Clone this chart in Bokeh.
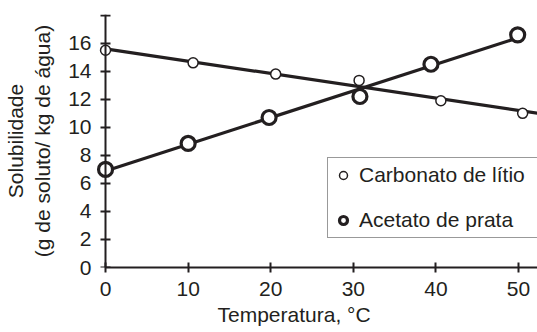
import numpy as np
from bokeh.plotting import figure
from bokeh.models import Range1d, FixedTicker, Legend, LegendItem, Title, LinearAxis
from bokeh.embed import file_html
from bokeh.resources import INLINE

# Data
carb_temp = [0, 10.6, 20.6, 30.7, 40.6, 50.5]
carb_sol = [15.5, 14.6, 13.8, 13.35, 11.9, 11.0]
acet_temp = [0, 10.0, 19.8, 30.8, 39.4, 49.9]
acet_sol = [7.0, 8.85, 10.7, 12.2, 14.5, 16.6]
carb_line_temp = [0, 55]
acet_line_temp = [0, 49.9]
x_ticks = [0, 10, 20, 30, 40, 50]
y_ticks = [0, 2, 4, 6, 8, 10, 12, 14, 16, 18]
y_label_ticks = [0, 2, 4, 6, 8, 10, 12, 14, 16]
carb_label = "Carbonato de lítio"
acet_label = "Acetato de prata"

FONT = "Liberation Sans"
INK = "#231f20"
FS = "21px"

p = figure(width=537, height=332, output_backend="svg", toolbar_location=None,
           x_range=Range1d(-1.7, 52.3), y_range=Range1d(0, 18.05),
           min_border_left=90, min_border_right=0, min_border_top=14,
           min_border_bottom=65)
p.outline_line_color = None
p.grid.visible = False

# trend lines (least squares from the data)
cs, ci = np.polyfit(carb_temp, carb_sol, 1)
as_, ai = np.polyfit(acet_temp, acet_sol, 1)
p.line(carb_line_temp, [ci + cs * t for t in carb_line_temp], line_width=3.2, line_color=INK)
p.line(acet_line_temp, [ai + as_ * t for t in acet_line_temp], line_width=3.2, line_color=INK)

r_carb = p.scatter(carb_temp, carb_sol, size=10, fill_color="white", line_color=INK, line_width=1.5)
r_acet = p.scatter(acet_temp, acet_sol, size=14, fill_color="white", line_color=INK, line_width=3.2)


def style(ax):
    ax.axis_line_width = 2
    ax.axis_line_color = INK
    ax.major_tick_line_width = 2
    ax.major_tick_line_color = INK
    ax.major_tick_in = 5
    ax.major_tick_out = 5
    ax.minor_tick_line_color = None
    ax.major_label_text_font = FONT
    ax.major_label_text_font_size = FS
    ax.major_label_text_color = INK
    ax.axis_label_text_font = FONT
    ax.axis_label_text_font_size = FS
    ax.axis_label_text_font_style = "normal"
    ax.axis_label_text_color = INK


# x axis
xa = p.xaxis[0]
style(xa)
xa.ticker = FixedTicker(ticks=x_ticks)
xa.bounds = (0, 60)
xa.major_label_standoff = 9

# y axis: labels (frame edge) + line/ticks at temperature 0
ya = p.yaxis[0]
style(ya)
ya.ticker = FixedTicker(ticks=y_label_ticks)
ya.axis_line_color = None
ya.major_tick_line_color = None
ya.major_tick_in = 0
ya.major_tick_out = 0
ya.major_label_standoff = 0
ya.axis_label = "Solubilidade\n(g de soluto/ kg de água)"
ya.axis_label_standoff = 11

yfix = LinearAxis(fixed_location=0, ticker=FixedTicker(ticks=y_ticks))
style(yfix)
yfix.major_label_text_alpha = 0
p.add_layout(yfix, "left")

p.add_layout(Title(text="Temperatura, °C", align="left", offset=126,
                   text_font=FONT, text_font_size=FS, text_font_style="normal",
                   text_color=INK, standoff=4), "below")

legend = Legend(items=[LegendItem(label=carb_label, renderers=[r_carb]),
                       LegendItem(label=acet_label, renderers=[r_acet])],
                location=(236, 29), orientation="vertical",
                label_text_font=FONT, label_text_font_size=FS, label_text_color=INK,
                label_height=20, glyph_height=20, glyph_width=20, label_standoff=6,
                label_width=180, spacing=21, padding=5, margin=0,
                border_line_color="#333333", border_line_width=1,
                background_fill_color="white", background_fill_alpha=1)
p.add_layout(legend, "center")

open("out.html", "w").write(file_html(p, INLINE))
